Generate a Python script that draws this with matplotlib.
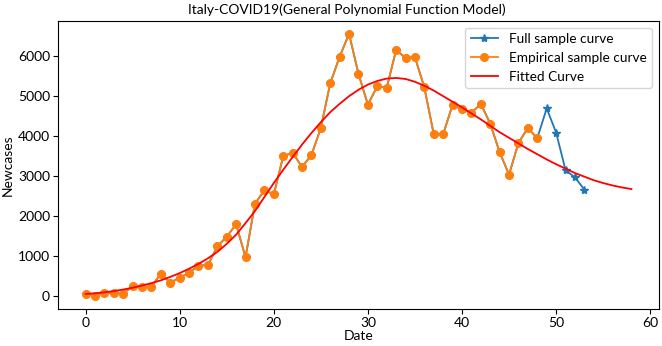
import numpy as np
import matplotlib
matplotlib.use("Agg")
import matplotlib.pyplot as plt

plt.rcParams["font.family"] = ["Lato", "DejaVu Sans"]

# daily new cases (day 0..53)
days_full = list(range(54))
cases_full = [50, 20, 80, 80, 70, 250, 238, 240, 566, 342, 466, 587, 769, 778,
              1247, 1492, 1797, 977, 2313, 2651, 2547, 3497, 3590, 3233, 3526,
              4207, 5322, 5986, 6557, 5560, 4789, 5249, 5210, 6153, 5959, 5974,
              5217, 4050, 4053, 4782, 4668, 4585, 4805, 4316, 3599, 3039, 3836,
              4204, 3951, 4694, 4092, 3153, 2972, 2667]
n_emp = 49  # empirical sample = first 49 days

fit_days = list(range(59))
fit_vals = [60, 75, 100, 130, 170, 215, 270, 330, 400, 485, 580, 690, 810,
            950, 1110, 1310, 1540, 1830, 2130, 2480, 2830, 3160, 3480, 3790,
            4080, 4350, 4600, 4810, 5000, 5160, 5290, 5380, 5440, 5455, 5430,
            5360, 5260, 5140, 5000, 4860, 4720, 4570, 4420, 4260, 4100, 3960,
            3820, 3680, 3550, 3420, 3300, 3190, 3080, 2990, 2900, 2830, 2770,
            2720, 2680]

fig, ax = plt.subplots(figsize=(6.62, 3.46), dpi=100)
fig.subplots_adjust(left=0.088, right=0.995, top=0.94, bottom=0.108)

ax.plot(days_full, cases_full, "*-", color="#1f77b4", ms=6, lw=1.3,
        label="Full sample curve")
ax.plot(days_full[:n_emp], cases_full[:n_emp], "o-", color="#ff7f0e", ms=5.5,
        lw=1.3, label="Empirical sample curve")
ax.plot(fit_days, fit_vals, "-", color="red", lw=1.3, label="Fitted Curve")

ax.set_xticks([0, 10, 20, 30, 40, 50, 60])
ax.set_yticks([0, 1000, 2000, 3000, 4000, 5000, 6000])
ax.tick_params(labelsize=10, pad=2.5)
ax.set_xlabel("Date", fontsize=10, labelpad=1)
ax.set_ylabel("Newcases", fontsize=10, labelpad=3)
ax.set_title("Italy-COVID19(General Polynomial Function Model)", fontsize=10,
             x=0.48, pad=5)
ax.legend(loc="upper right", fontsize=9.8)

plt.savefig("out.png", dpi=100)
